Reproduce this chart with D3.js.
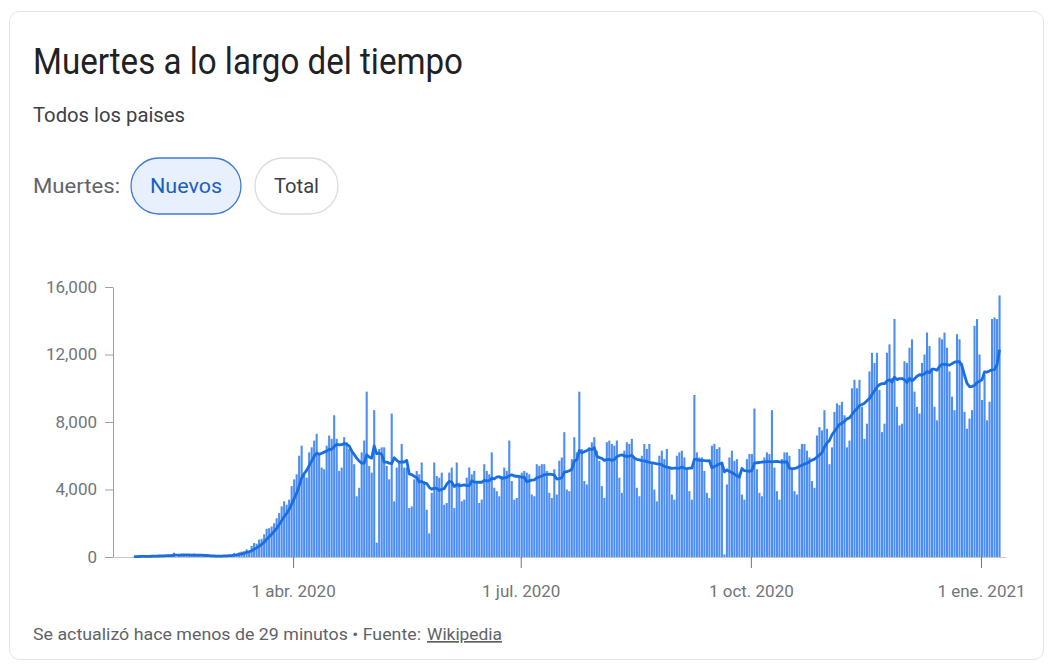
<!DOCTYPE html>
<html>
<head>
<meta charset="utf-8">
<script src="https://cdn.jsdelivr.net/npm/d3@7"></script>
<style>
  body { margin: 0; background: #fff; }
  svg { font-family: Roboto, "Noto Sans", Arial, sans-serif; }
</style>
</head>
<body>
<svg id="chart" width="1052" height="668"></svg>
<script>
// daily new deaths, all countries, one value per day from 28 Jan 2020
var startDate = "2020-01-28";
var jan2020 = [26, 26, 38, 43];
var feb2020 = [46, 45, 57, 64, 66, 73, 73, 86, 89, 97, 108, 97, 254, 13, 143, 142, 106, 98, 115, 118, 109, 97, 150, 71, 52, 29, 44, 37, 58];
var mar2020 = [71, 67, 74, 96, 97, 104, 101, 227, 199, 270, 318, 341, 450, 373, 660, 827, 789, 1031, 1075, 1342, 1674, 1706, 1806, 2000, 2300, 2600, 3000, 3300, 3100, 3400, 4200];
var apr2020 = [4600, 4900, 6000, 6600, 4900, 4700, 6200, 6500, 6900, 7300, 6100, 5300, 5200, 6600, 7200, 7000, 8400, 7000, 5100, 5300, 7100, 6800, 6400, 6300, 5500, 3600, 4100, 6200, 6900, 9800];
var may2020 = [5400, 5000, 8700, 850, 6400, 6500, 6500, 5400, 4600, 8500, 3300, 5300, 5700, 6700, 5300, 5300, 2900, 3000, 4600, 5100, 4900, 5600, 4500, 2800, 1400, 3800, 5600, 4800, 4700, 5000, 3100];
var jun2020 = [3200, 5000, 5300, 2900, 5600, 4400, 3300, 3400, 4700, 5300, 4900, 5100, 4400, 3200, 3400, 5500, 5100, 4900, 6200, 4100, 3900, 3600, 4800, 5300, 5100, 6900, 4500, 3400, 3500, 4700];
var jul2020 = [5000, 5100, 5000, 4900, 3700, 3600, 5500, 5400, 5500, 5500, 5100, 3800, 3500, 5200, 3700, 5700, 5900, 7400, 4000, 3900, 5800, 7100, 6200, 9800, 6400, 4500, 4300, 6500, 6800, 7100, 6300];
var aug2020 = [5700, 4200, 3500, 6800, 6900, 6700, 6600, 6900, 4700, 3800, 6300, 6800, 6700, 7000, 5800, 4100, 3600, 6000, 6700, 6400, 6700, 5500, 4000, 3300, 6000, 6300, 5800, 6400, 5300, 3700, 3400];
var sep2020 = [6000, 6200, 6300, 5900, 5200, 3900, 3400, 9600, 6200, 5900, 5900, 5100, 3800, 3500, 6600, 6700, 6400, 6500, 5500, 150, 4300, 5900, 6300, 5700, 5800, 5000, 3700, 3400, 5800, 6100];
var oct2020 = [6100, 8800, 5200, 3800, 3600, 5900, 6200, 6100, 8700, 5300, 3900, 3400, 5800, 6200, 6200, 6000, 5200, 3900, 3700, 6400, 6700, 6700, 6300, 5900, 4500, 4100, 7200, 7700, 7500, 8700, 7600];
var nov2020 = [5500, 6500, 8600, 9100, 9000, 9200, 8400, 6500, 6900, 10000, 10500, 10000, 10500, 8900, 7000, 7900, 11000, 12100, 11500, 12100, 9900, 7400, 7900, 12100, 12600, 10600, 14100, 8900, 7800, 7900];
var dec2020 = [11600, 11500, 12400, 12900, 9800, 8900, 8500, 11500, 12000, 13300, 12500, 11200, 8900, 8100, 13000, 12900, 13300, 12400, 11000, 9500, 8700, 13200, 12900, 11500, 8600, 7600, 8200, 8700, 13700, 14100, 12000];
var jan2021 = [9300, 10800, 8100, 9200, 14100, 14200, 14100, 15500];

var yTicks = [0, 4000, 8000, 12000, 16000];
var xTickDates = ["2020-04-01", "2020-07-01", "2020-10-01", "2021-01-01"];
var xTickLabels = ["1 abr. 2020", "1 jul. 2020", "1 oct. 2020", "1 ene. 2021"];

var parseDate = d3.timeParse("%Y-%m-%d");
var values = [].concat(jan2020, feb2020, mar2020, apr2020, may2020, jun2020,
    jul2020, aug2020, sep2020, oct2020, nov2020, dec2020, jan2021);

var data = values.map(function (v, i) {
    return {date: d3.timeDay.offset(parseDate(startDate), i), value: v};
});
// 7 day average for the line
data.forEach(function (d, i) {
    d.avg = d3.mean(data.slice(Math.max(0, i - 6), i + 1), function (e) { return e.value; });
});

var svg = d3.select("#chart");

// card
svg.append("rect")
    .attr("x", 9.5).attr("y", 11.5)
    .attr("width", 1034).attr("height", 648)
    .attr("rx", 10)
    .attr("fill", "#fff")
    .attr("stroke", "#e3e3e3");

// header texts
svg.append("text")
    .attr("x", 33).attr("y", 74)
    .attr("font-size", 36).attr("fill", "#202124")
    .attr("textLength", 430).attr("lengthAdjust", "spacingAndGlyphs")
    .text("Muertes a lo largo del tiempo");

svg.append("text")
    .attr("x", 33).attr("y", 122)
    .attr("font-size", 20).attr("fill", "#3c4043")
    .attr("textLength", 152).attr("lengthAdjust", "spacingAndGlyphs")
    .text("Todos los paises");

svg.append("text")
    .attr("x", 33).attr("y", 193)
    .attr("font-size", 20).attr("fill", "#5f6368")
    .attr("textLength", 87).attr("lengthAdjust", "spacingAndGlyphs")
    .text("Muertes:");

// pills
svg.append("rect")
    .attr("x", 131).attr("y", 158).attr("width", 110).attr("height", 56).attr("rx", 28)
    .attr("fill", "#e8f0fe").attr("stroke", "#3f7ad6").attr("stroke-width", 1.3);
svg.append("text")
    .attr("x", 186).attr("y", 193).attr("text-anchor", "middle")
    .attr("font-size", 20).attr("fill", "#1a5fc4")
    .attr("textLength", 72).attr("lengthAdjust", "spacingAndGlyphs")
    .text("Nuevos");

svg.append("rect")
    .attr("x", 255).attr("y", 158).attr("width", 83).attr("height", 56).attr("rx", 28)
    .attr("fill", "#fff").attr("stroke", "#dadce0").attr("stroke-width", 1.3);
svg.append("text")
    .attr("x", 296.5).attr("y", 193).attr("text-anchor", "middle")
    .attr("font-size", 20).attr("fill", "#3c4043")
    .attr("textLength", 45).attr("lengthAdjust", "spacingAndGlyphs")
    .text("Total");

// scales
var x = d3.scaleTime()
    .domain([parseDate("2020-01-20"), parseDate("2021-01-11")])
    .range([113, 1006]);

var y = d3.scaleLinear()
    .domain([0, 16000])
    .range([557, 287]);

// bars
var barW = 2.1;
svg.append("g")
    .selectAll("rect")
    .data(data)
    .join("rect")
    .attr("x", function (d) { return x(d.date); })
    .attr("y", function (d) { return y(d.value); })
    .attr("width", barW)
    .attr("height", function (d) { return y(0) - y(d.value); })
    .attr("fill", "#4d8ef3");

// axes
var yAxis = svg.append("g")
    .attr("transform", "translate(113,0)")
    .call(d3.axisLeft(y).tickValues(yTicks).tickFormat(d3.format(",")).tickSize(8).tickSizeOuter(0).tickPadding(8));
yAxis.select(".domain").attr("stroke", "#9aa0a6");
yAxis.selectAll(".tick line").attr("stroke", "#9aa0a6");
yAxis.selectAll(".tick text").attr("font-size", 17).attr("fill", "#70757a").attr("font-family", "Roboto, sans-serif");

var xAxis = svg.append("g")
    .attr("transform", "translate(0,557)")
    .call(d3.axisBottom(x)
        .tickValues(xTickDates.map(parseDate))
        .tickFormat(function (d, i) { return xTickLabels[i]; })
        .tickSize(11).tickSizeOuter(0).tickPadding(17));
xAxis.select(".domain").attr("stroke", "#c4c7c5");
xAxis.selectAll(".tick line").attr("stroke", "#70757a");
xAxis.selectAll(".tick text").attr("font-size", 17).attr("fill", "#70757a").attr("font-family", "Roboto, sans-serif");

// 7 day average line
var line = d3.line()
    .x(function (d) { return x(d.date) + barW / 2; })
    .y(function (d) { return y(d.avg); });

svg.append("path")
    .datum(data)
    .attr("d", line)
    .attr("fill", "none")
    .attr("stroke", "#1a6ee0")
    .attr("stroke-width", 2.8)
    .attr("stroke-linejoin", "round");

// footer
svg.append("text")
    .attr("x", 33).attr("y", 640)
    .attr("font-size", 17).attr("fill", "#5f6368")
    .attr("textLength", 388).attr("lengthAdjust", "spacingAndGlyphs")
    .text("Se actualizó hace menos de 29 minutos • Fuente:");
svg.append("text")
    .attr("x", 427).attr("y", 640)
    .attr("font-size", 17).attr("fill", "#5f6368")
    .attr("text-decoration", "underline")
    .attr("textLength", 75).attr("lengthAdjust", "spacingAndGlyphs")
    .text("Wikipedia");
</script>
</body>
</html>
